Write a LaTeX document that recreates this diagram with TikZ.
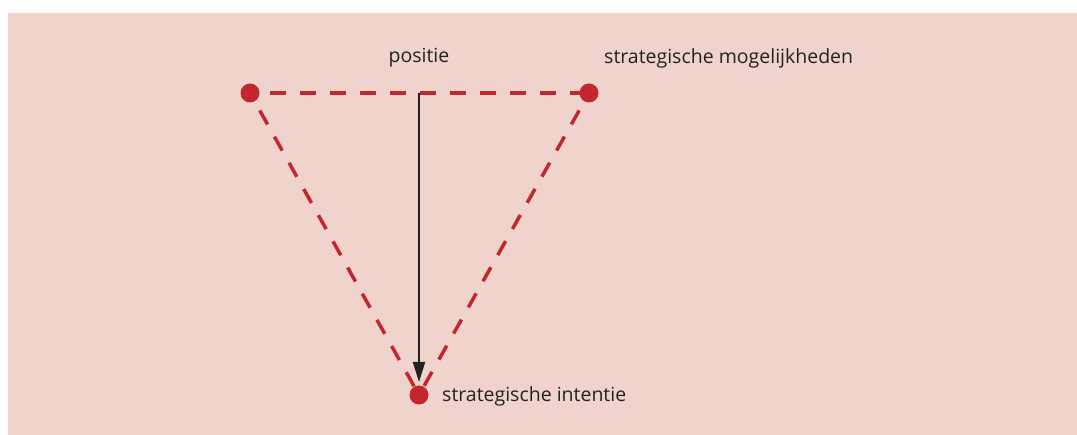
\documentclass[tikz,border=0pt]{standalone}
\usepackage{fontspec}
\setmainfont{Open Sans}
\usetikzlibrary{arrows.meta}
\definecolor{bgpink}{HTML}{F0D3CC}
\definecolor{dotred}{HTML}{C1272D}
\definecolor{txt}{HTML}{222222}
\tikzset{
  dot/.style={circle,fill=dotred,inner sep=0pt,minimum size=19pt},
  reddash/.style={draw=dotred,line width=3.5pt,dash pattern=on 16pt off 14pt,dash phase=-20pt},
  lbl/.style={font=\fontsize{19.5}{22}\selectfont,text=txt,inner sep=0pt},
  arr/.style={draw=txt,line width=2pt,-{Triangle[length=20pt,width=12pt]}}
}
\begin{document}
\begin{tikzpicture}[x=1pt,y=-1pt]
\useasboundingbox (0,0) rectangle (1077,435);
\fill[bgpink] (8,13) rectangle (1077,435);
\coordinate (L) at (250,93);
\coordinate (R) at (589,93);
\coordinate (B) at (419,395);
\coordinate (M) at (419,93);
\coordinate (T) at (419,382);
\draw[reddash] (L) -- (R);
\draw[reddash] (L) -- (B);
\draw[reddash] (R) -- (B);
\draw[arr] (M) -- (T);
\node[dot] (dl) at (L) {};
\node[dot] (dr) at (R) {};
\node[dot] (db) at (B) {};
\node[lbl] (pos) at (419,58) {positie};
\node[lbl,anchor=west] (mog) at (604,58) {strategische mogelijkheden};
\node[lbl,anchor=west] (int) at (442,396) {strategische intentie};
\end{tikzpicture}
\end{document}
